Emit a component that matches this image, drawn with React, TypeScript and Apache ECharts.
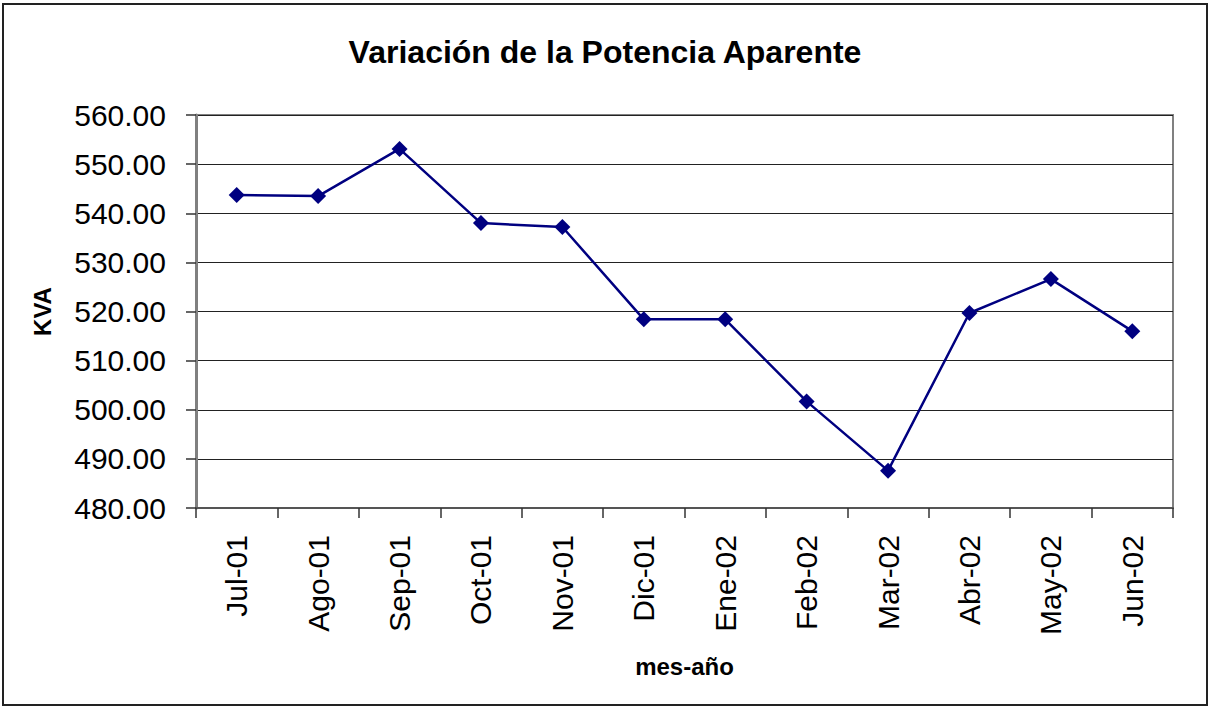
import React, { useEffect, useRef } from "react";
import * as echarts from "echarts";

const categories = ["Jul-01", "Ago-01", "Sep-01", "Oct-01", "Nov-01", "Dic-01", "Ene-02", "Feb-02", "Mar-02", "Abr-02", "May-02", "Jun-02"];
const kvaValues = [543.7, 543.5, 553.1, 538.0, 537.2, 518.4, 518.4, 501.7, 487.6, 519.7, 526.6, 516.0];
const yMin = 480;
const yMax = 560;
const yInterval = 10;

export default function App() {
  const ref = useRef<HTMLDivElement>(null);
  useEffect(() => {
    if (!ref.current) return;
    const chart = echarts.init(ref.current, null, { renderer: "svg" });
    const font = "'Liberation Sans', Arial, sans-serif";
    chart.setOption({
      animation: false,
      backgroundColor: "#ffffff",
      title: {
        text: "Variación de la Potencia Aparente",
        left: "center",
        top: 31,
        textStyle: { fontFamily: font, fontSize: 32, fontWeight: "bold", color: "#000" },
      },
      graphic: [
        {
          type: "rect",
          shape: { x: 3, y: 4, width: 1204, height: 701 },
          style: { fill: "none", stroke: "#222", lineWidth: 2 },
          silent: true,
        },
      ],
      grid: {
        left: 196,
        top: 115,
        width: 977,
        height: 393,
        show: true,
        borderColor: "#808080",
        borderWidth: 2,
        backgroundColor: "transparent",
      },
      xAxis: {
        type: "category",
        data: categories,
        boundaryGap: true,
        name: "mes-año",
        nameLocation: "middle",
        nameGap: 146,
        nameTextStyle: { fontFamily: font, fontSize: 24, fontWeight: "bold", color: "#000" },
        axisLine: { lineStyle: { color: "#555", width: 2 } },
        axisTick: { show: true, length: 10, inside: false, alignWithLabel: false, lineStyle: { color: "#333", width: 1.5 } },
        axisLabel: {
          rotate: 90,
          margin: 27,
          fontFamily: font,
          fontSize: 30,
          color: "#000",
          interval: 0,
        },
        splitLine: { show: false },
      },
      yAxis: {
        type: "value",
        min: yMin,
        max: yMax,
        interval: yInterval,
        name: "KVA",
        nameLocation: "middle",
        nameGap: 142,
        nameTextStyle: { fontFamily: font, fontSize: 24, fontWeight: "bold", color: "#000" },
        axisLine: { show: true, lineStyle: { color: "#808080", width: 3 } },
        axisTick: { show: true, length: 10, inside: false, lineStyle: { color: "#333", width: 1.5 } },
        axisLabel: {
          margin: 30,
          fontFamily: font,
          fontSize: 30,
          color: "#000",
          formatter: (v: number) => v.toFixed(2),
        },
        splitLine: { show: true, lineStyle: { color: "#222", width: 1.2 } },
      },
      series: [
        {
          type: "line",
          data: kvaValues,
          symbol: "diamond",
          symbolSize: 16,
          itemStyle: { color: "#000080" },
          lineStyle: { color: "#000080", width: 2.5 },
        },
      ],
    });
    return () => chart.dispose();
  }, []);
  return (
    <div
      ref={ref}
      style={{ position: "absolute", left: 0, top: 0, width: 1210, height: 707, background: "#fff" }}
    />
  );
}
